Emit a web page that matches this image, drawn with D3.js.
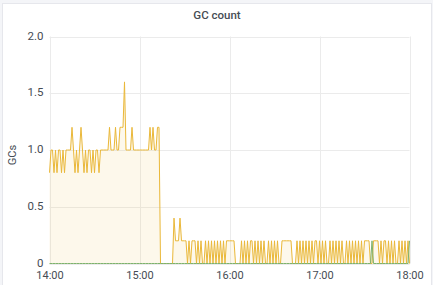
<!DOCTYPE html>
<html><head><meta charset="utf-8">
<script src="https://cdn.jsdelivr.net/npm/d3@7/dist/d3.min.js"></script>
<style>
html,body{margin:0;padding:0;background:#f4f5f8;}
svg{display:block;font-family:Roboto,"Helvetica Neue",Arial,sans-serif;}
</style></head><body>
<svg id="c" width="433" height="285"></svg>
<script>
// minutes after 14:00, one sample per minute (14:00 .. 18:00)
const startTime = new Date(2020, 0, 1, 14, 0);
const yTicks = [0, 0.5, 1.0, 1.5, 2.0];
const xTickLabels = ["14:00", "15:00", "16:00", "17:00", "18:00"];

const gcYellow = [
 0.8,1.0,1.0,0.8,1.0,0.8,1.0,1.0,0.8,1.0, 0.8,1.0,1.0,1.0,1.0,1.2,1.0,0.8,1.0,0.8,
 1.0,1.2,1.0,0.8,1.0,0.8,1.0,1.0,0.8,1.0, 0.8,1.0,1.0,0.8,1.0,1.0,1.0,1.0,1.0,1.0,
 1.2,1.0,1.0,1.0,1.2,1.0,1.0,1.2,1.2,1.2, 1.6,1.0,1.0,1.0,1.0,1.2,1.0,1.0,1.0,1.0,
 1.0,1.0,1.0,1.0,1.0,1.0,1.0,1.2,1.0,1.2, 1.0,1.0,1.2,1.2,0,0,0,0,0,0,
 0,0,0,0.4,0.2,0.2,0.2,0.4,0.2,0.2, 0.2,0.2,0,0.2,0,0.2,0.2,0.2,0,0.2,
 0,0.2,0,0,0.2,0,0.2,0,0.2,0, 0.2,0,0.2,0,0.2,0,0.2,0,0.2,0.2,
 0.2,0.2,0.2,0.2,0,0,0,0,0.2,0, 0.2,0,0.2,0,0.2,0.2,0,0.2,0,0.2,
 0,0.2,0,0.2,0,0,0.2,0,0.2,0, 0.2,0,0.2,0,0,0.2,0.2,0.2,0.2,0.2,
 0.2,0.2,0,0,0,0.2,0,0.2,0,0.2, 0,0.2,0,0.2,0,0.2,0,0.2,0.2,0,
 0.2,0,0.2,0,0.2,0,0,0.2,0,0.2, 0,0.2,0,0.2,0,0.2,0,0,0.2,0,
 0.2,0,0.2,0,0.2,0,0.2,0,0.2,0, 0.2,0.2,0.2,0.2,0,0,0.2,0.2,0.2,0.2,
 0,0.2,0,0.2,0.2,0,0.2,0,0.2,0, 0.2,0,0,0.2,0,0.2,0,0.2,0,0.2,
 0
];
const gcGreen = gcYellow.map(() => 0);
gcGreen[215] = 0.2;
gcGreen[240] = 0.2;

const svg = d3.select("#c");
// panel
svg.append("rect").attr("x", 2.5).attr("y", 3.5).attr("width", 429).attr("height", 290)
  .attr("fill", "#fff").attr("stroke", "#e6e7ec");

svg.append("text").attr("x", 217).attr("y", 19).attr("text-anchor", "middle")
  .attr("font-size", 11.5).attr("font-weight", 500).attr("fill", "#464c54").text("GC count");

const x = d3.scaleTime()
  .domain([startTime, new Date(2020, 0, 1, 18, 0)])
  .range([49.5, 409.5]);
const y = d3.scaleLinear().domain([0, 2]).range([263.5, 36.5]);

const tickDates = xTickLabels.map(s => { const [h, m] = s.split(":").map(Number); return new Date(2020, 0, 1, h, m); });

const g = svg.append("g");
// grid
g.selectAll("line.h").data(yTicks).join("line")
  .attr("x1", 49.5).attr("x2", 409.5).attr("y1", d => Math.round(y(d)) + 0.5).attr("y2", d => Math.round(y(d)) + 0.5)
  .attr("stroke", "#ebebeb");
g.selectAll("line.v").data(tickDates).join("line")
  .attr("y1", 36.5).attr("y2", 263.5).attr("x1", d => Math.round(x(d)) + 0.5).attr("x2", d => Math.round(x(d)) + 0.5)
  .attr("stroke", "#ebebeb");

// axes
const yAxis = d3.axisLeft(y).tickValues(yTicks).tickSize(0).tickPadding(6)
  .tickFormat(d => d === 0 ? "0" : d3.format(".1f")(d));
const ya = svg.append("g").attr("transform", "translate(49.5,-1)").call(yAxis);
ya.select(".domain").remove();
ya.selectAll("text").attr("font-size", 11.5).attr("fill", "#464c54").attr("font-family", "Roboto, sans-serif");

const xAxis = d3.axisBottom(x).tickValues(tickDates).tickSize(0).tickPadding(8)
  .tickFormat((d, i) => xTickLabels[i]);
const xa = svg.append("g").attr("transform", "translate(0,263.5)").call(xAxis);
xa.select(".domain").remove();
xa.selectAll("text").attr("font-size", 11).attr("fill", "#464c54").attr("font-family", "Roboto, sans-serif");

svg.append("text").attr("transform", "translate(16,155) rotate(-90)").attr("text-anchor", "middle")
  .attr("font-size", 11).attr("fill", "#464c54").text("GCs");

const t = i => new Date(startTime.getTime() + i * 60000);
const area = d3.area().x((d, i) => x(t(i))).y0(y(0)).y1(d => y(d));
const line = d3.line().x((d, i) => x(t(i))).y(d => y(d));

svg.append("path").datum(gcYellow).attr("d", area).attr("fill", "#EAB839").attr("fill-opacity", 0.1);
svg.append("path").datum(gcYellow).attr("d", line).attr("fill", "none").attr("stroke", "#EAB839").attr("stroke-width", 1);
svg.append("path").datum(gcGreen).attr("d", area).attr("fill", "#7EB26D").attr("fill-opacity", 0.1);
svg.append("path").datum(gcGreen).attr("d", line).attr("fill", "none").attr("stroke", "#7EB26D").attr("stroke-width", 1);
</script>
</body></html>
